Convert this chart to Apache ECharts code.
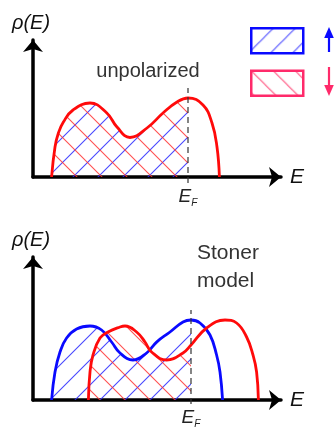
<!DOCTYPE html>
<html>
<head>
<meta charset="utf-8">
<script src="https://cdn.jsdelivr.net/npm/echarts@6/dist/echarts.min.js"></script>
<style>
  html, body { margin: 0; padding: 0; background: #ffffff; }
  #chart { width: 336px; height: 432px; }
</style>
</head>
<body>
<div id="chart"></div>
<script>
// Density of states rho(E) versus energy E (arbitrary units)
// Non-magnetic band, both spin channels identical
const unpolarizedCurve = [
  [0.93, 0], [1.1, 3.0], [1.27, 4.4], [1.52, 5.5], [2.0, 6.7], [2.85, 7.4],
  [3.69, 6.4], [4.2, 5.0], [4.85, 3.95], [5.7, 4.9], [6.5, 6.4], [7.2, 7.5],
  [7.75, 7.9], [8.5, 7.2], [8.95, 5.4], [9.2, 3.0], [9.32, 0]
];
// Stoner model: majority (spin up) band shifted down
const spinUpCurve = [
  [0.93, 0], [1.1, 2.8], [1.35, 4.8], [1.68, 6.2], [2.18, 7.1], [2.85, 7.4],
  [3.43, 7.0], [3.93, 5.8], [4.35, 4.7], [5.0, 4.0], [5.68, 4.7], [6.18, 5.8],
  [6.85, 6.8], [7.5, 7.8], [7.9, 8.0], [8.35, 7.7], [8.85, 6.5], [9.18, 4.5],
  [9.35, 2.8], [9.48, 0]
];
// Stoner model: minority (spin down) band shifted up
const spinDownCurve = [
  [2.77, 0], [2.85, 2.8], [3.0, 4.5], [3.35, 6.2], [3.75, 6.8], [4.35, 7.3],
  [4.6, 7.4], [5.18, 6.8], [5.6, 5.8], [5.93, 4.8], [6.68, 4.0], [7.5, 4.7],
  [7.9, 5.5], [8.68, 7.2], [9.6, 8.0], [10.18, 7.7], [10.68, 6.3], [11.0, 4.5],
  [11.18, 2.8], [11.27, 0]
];
// Fermi level in each panel
const fermiUnpolarized = 7.75;
const fermiStoner = 7.9;
// Extent of the dashed Fermi-level marker (below axis, top)
const fermiMarkUnpolarized = [-0.6, 8.9];
const fermiMarkStoner = [-0.4, 9.0];

const BLUE = '#0a0aff';
const RED = '#ff0a0a';
const PINK = '#ff2a6a';

// Diagonal hatch tiles used as fill patterns
function hatch(color, dir, size, width) {
  const c = document.createElement('canvas');
  c.width = size; c.height = size;
  const ctx = c.getContext('2d');
  ctx.strokeStyle = color;
  ctx.lineWidth = width;
  ctx.beginPath();
  if (dir === '/') {
    ctx.moveTo(-1, size + 1); ctx.lineTo(size + 1, -1);
    ctx.moveTo(-2, 2); ctx.lineTo(2, -2);
    ctx.moveTo(size - 2, size + 2); ctx.lineTo(size + 2, size - 2);
  } else {
    ctx.moveTo(-1, -1); ctx.lineTo(size + 1, size + 1);
    ctx.moveTo(-2, size - 2); ctx.lineTo(2, size + 2);
    ctx.moveTo(size - 2, -2); ctx.lineTo(size + 2, 2);
  }
  ctx.stroke();
  return { image: c, repeat: 'repeat' };
}
const hatchUp = hatch('rgba(40,40,255,0.85)', '/', 25, 1.1);
const hatchDown = hatch('rgba(255,50,50,0.85)', '\\', 25, 1.1);
const legendUp = hatch('rgba(60,60,255,0.9)', '/', 22, 1.1);
const legendDown = hatch('rgba(255,60,110,0.9)', '\\', 22, 1.1);

const occupied = (curve, ef) => curve.filter(p => p[0] <= ef);

const fermiRich = {
  e: { fontFamily: 'Liberation Sans', fontStyle: 'italic', fontSize: 19, color: '#222' },
  f: { fontFamily: 'Liberation Sans', fontStyle: 'italic', fontSize: 10, color: '#222', verticalAlign: 'bottom', padding: [0, 0, -2, 0] }
};

function fermiSeries(gridIndex, ef, mark) {
  return {
    type: 'line', xAxisIndex: gridIndex, yAxisIndex: gridIndex,
    clip: false, silent: true, z: 6, animation: false,
    symbol: 'circle', symbolSize: 0,
    lineStyle: { color: '#333', width: 1.2, type: [6, 4] },
    data: [
      { value: [ef, mark[0]], label: { show: true, position: 'bottom', distance: 4, formatter: '{e|E}{f|F}', rich: fermiRich } },
      [ef, mark[1]]
    ]
  };
}

const SMOOTH = 0.45;

function fillSeries(name, gridIndex, curve, ef, pattern) {
  return {
    name, type: 'line', xAxisIndex: gridIndex, yAxisIndex: gridIndex,
    smooth: SMOOTH, showSymbol: false, symbol: 'none',
    silent: true, z: 2, animation: false,
    lineStyle: { width: 0, color: 'transparent' },
    areaStyle: { color: pattern, opacity: 1 },
    data: occupied(curve, ef)
  };
}

function curveSeries(gridIndex, curve, color, z) {
  return {
    type: 'line', xAxisIndex: gridIndex, yAxisIndex: gridIndex,
    smooth: SMOOTH, showSymbol: false, symbol: 'none',
    silent: true, z, animation: false,
    lineStyle: { color, width: 2.8 },
    data: curve
  };
}

const axisLine = {
  show: true, onZero: false,
  symbol: ['none', 'arrow'], symbolSize: [15, 12],
  lineStyle: { color: '#000', width: 3.5 }
};

function xAxis(gridIndex) {
  return {
    type: 'value', gridIndex, min: 0, max: 12.4,
    axisLine, axisTick: { show: false }, axisLabel: { show: false }, splitLine: { show: false },
    name: 'E', nameLocation: 'end', nameGap: 9,
    nameTextStyle: { fontFamily: 'Liberation Sans', fontStyle: 'italic', fontSize: 21, color: '#111', verticalAlign: 'middle' }
  };
}
function yAxis(gridIndex, max) {
  return {
    type: 'value', gridIndex, min: 0, max,
    axisLine, axisTick: { show: false }, axisLabel: { show: false }, splitLine: { show: false },
    name: 'ρ(E)', nameLocation: 'end', nameGap: 7,
    nameTextStyle: { fontFamily: 'Liberation Sans', fontStyle: 'italic', fontSize: 20, color: '#111', align: 'center', padding: [0, 4, 0, 0] }
  };
}

// Spin arrows drawn beside the legend swatches
function arrowGlyph(x, yTail, yTip, color) {
  const dir = yTip < yTail ? 1 : -1;
  const headLen = 11;
  return {
    type: 'group', silent: true,
    children: [
      { type: 'line', shape: { x1: x, y1: yTail, x2: x, y2: yTip + dir * headLen * 0.6 }, style: { stroke: color, lineWidth: 2.2 } },
      { type: 'polygon', shape: { points: [[x, yTip], [x - 4.8, yTip + dir * headLen], [x + 4.8, yTip + dir * headLen]] }, style: { fill: color } }
    ]
  };
}

const chart = echarts.init(document.getElementById('chart'), null, { renderer: 'canvas' });
chart.setOption({
  animation: false,
  backgroundColor: '#ffffff',
  grid: [
    { left: 33, top: 40, width: 248, height: 137 },
    { left: 33, top: 257, width: 248, height: 143 }
  ],
  xAxis: [xAxis(0), xAxis(1)],
  yAxis: [yAxis(0, 13.7), yAxis(1, 14.3)],
  legend: {
    left: 250, top: 27, padding: 0, orient: 'vertical', selectedMode: false,
    icon: 'rect', itemWidth: 52, itemHeight: 25, itemGap: 15,
    formatter: () => '',
    data: [
      { name: 'spin up', itemStyle: { color: legendUp, borderColor: BLUE, borderWidth: 2.5 } },
      { name: 'spin down', itemStyle: { color: legendDown, borderColor: PINK, borderWidth: 2.5 } }
    ]
  },
  graphic: [
    arrowGlyph(329, 52, 27, BLUE),
    arrowGlyph(329, 67, 96, PINK),
    { type: 'text', x: 148, y: 71, silent: true,
      style: { text: 'unpolarized', fontFamily: 'Liberation Sans', fontSize: 20, fill: '#333', align: 'center', verticalAlign: 'middle' } },
    { type: 'text', x: 197, y: 239, silent: true,
      style: { text: 'Stoner\nmodel', fontFamily: 'Liberation Sans', fontSize: 21, lineHeight: 28, fill: '#333', align: 'left', verticalAlign: 'top' } }
  ],
  series: [
    // unpolarized panel
    fillSeries('spin up', 0, unpolarizedCurve, fermiUnpolarized, hatchUp),
    fillSeries('spin down', 0, unpolarizedCurve, fermiUnpolarized, hatchDown),
    curveSeries(0, unpolarizedCurve, RED, 4),
    fermiSeries(0, fermiUnpolarized, fermiMarkUnpolarized),
    // Stoner panel
    fillSeries('spin up', 1, spinUpCurve, fermiStoner, hatchUp),
    fillSeries('spin down', 1, spinDownCurve, fermiStoner, hatchDown),
    curveSeries(1, spinUpCurve, BLUE, 4),
    curveSeries(1, spinDownCurve, RED, 5),
    fermiSeries(1, fermiStoner, fermiMarkStoner)
  ]
});
</script>
</body>
</html>
